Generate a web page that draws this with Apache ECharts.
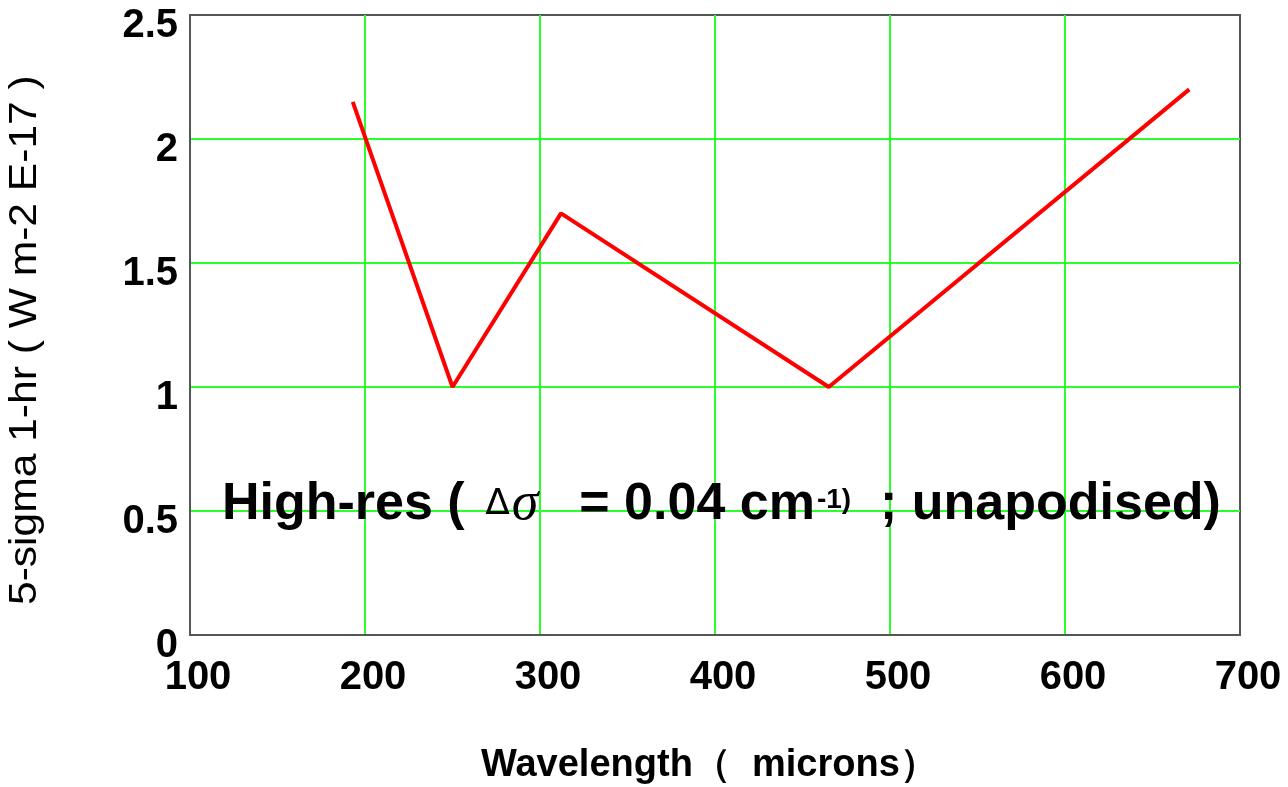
<!DOCTYPE html>
<html>
<head>
<meta charset="utf-8">
<script src="https://cdn.jsdelivr.net/npm/echarts@6/dist/echarts.min.js"></script>
<style>
html,body{margin:0;padding:0;background:#fff;}
#chart{width:1288px;height:787px;}
</style>
</head>
<body>
<div id="chart"></div>
<script>
// Data
const wavelength = [193, 250, 312, 465, 671];
const sensitivity = [2.15, 1.0, 1.7, 1.0, 2.2];
const xTicks = [100, 200, 300, 400, 500, 600, 700];
const yTicks = [0, 0.5, 1, 1.5, 2, 2.5];
const xTitle = 'Wavelength\uFF08  microns\uFF09';
const yTitle = '5-sigma 1-hr ( W m-2 E-17 )';

const chart = echarts.init(document.getElementById('chart'));
const F = '"Liberation Sans", Arial, sans-serif';
const gridLine = {show: true, showMinLine: false, showMaxLine: false, lineStyle: {color: '#2bff2b', width: 2, type: 'solid'}};
chart.setOption({
  animation: false,
  backgroundColor: '#fff',
  grid: {left: 190, right: 48, top: 15, bottom: 152, show: true, borderColor: '#555', borderWidth: 2},
  xAxis: {
    type: 'value', min: xTicks[0], max: xTicks[xTicks.length-1], interval: 100,
    axisLine: {show: true, onZero: false, lineStyle: {color: '#555', width: 2}},
    axisTick: {show: false},
    splitLine: gridLine,
    axisLabel: {color: '#000', fontFamily: F, fontSize: 40, fontWeight: 'bold', margin: 23, padding: [0,0,0,16]}
  },
  yAxis: {
    type: 'value', min: yTicks[0], max: yTicks[yTicks.length-1], interval: 0.5,
    axisLine: {show: true, lineStyle: {color: '#555', width: 2}},
    axisTick: {show: false},
    splitLine: gridLine,
    axisLabel: {color: '#000', fontFamily: F, fontSize: 40, fontWeight: 'bold', margin: 12, verticalAlign: 'top', lineHeight: 22}
  },
  series: [{
    type: 'line',
    data: wavelength.map((w, i) => [w, sensitivity[i]]),
    symbol: 'none',
    lineStyle: {color: '#ff0000', width: 4},
    z: 5
  }],
  graphic: [
    {type: 'text', x: 481, y: 766, style: {text: xTitle, font: 'bold 38px ' + F, fill: '#000', align: 'left', verticalAlign: 'middle'}},
    {type: 'text', x: 26, y: 605, rotation: Math.PI/2, scaleX: 1.12, style: {text: yTitle, font: '38px ' + F, fill: '#000', align: 'left', verticalAlign: 'middle'}},
    {type: 'text', x: 222, y: 535, z: 10, style: {
      text: '{b|High-res ( }{d|\u0394}{g|\u03C3}{b|  = 0.04 cm}{s|-1)}{b|  ; unapodised)}',
      verticalAlign: 'bottom',
      rich: {
        b: {font: 'bold 52px ' + F, fill: '#000', lineHeight: 60},
        d: {font: '36px "DejaVu Sans", sans-serif', fill: '#000', lineHeight: 60, padding: [0,2,0,6]},
        g: {font: 'italic 54px "Liberation Serif", serif', fill: '#000', lineHeight: 60, padding: [0,12,0,0]},
        s: {font: 'bold 28px ' + F, fill: '#000', lineHeight: 60, padding: [0,0,10,2]}
      }
    }}
  ]
});
</script>
</body>
</html>
